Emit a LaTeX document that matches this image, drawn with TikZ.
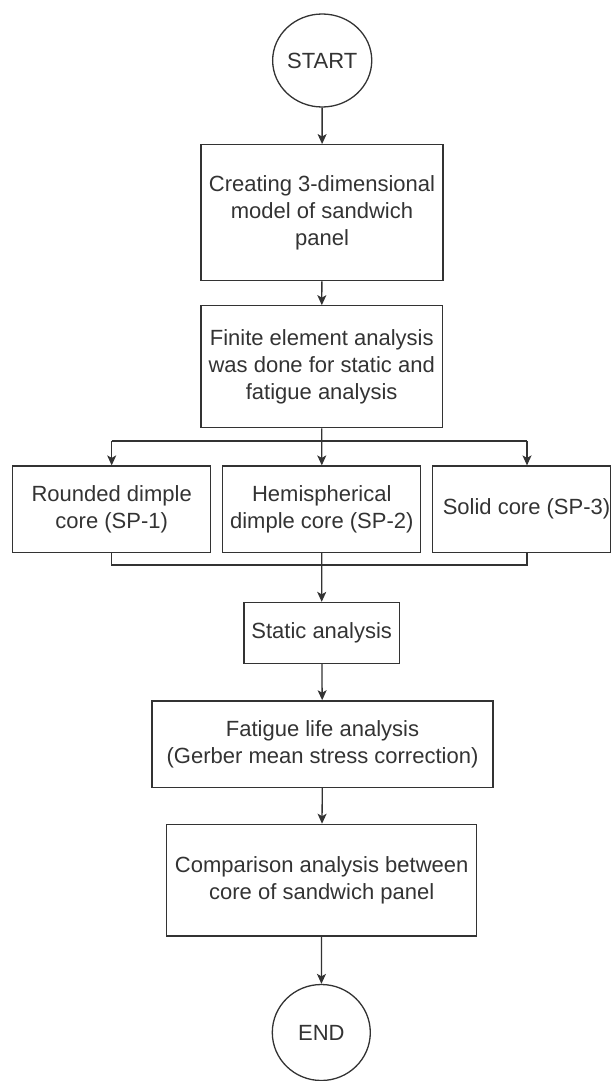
\documentclass[tikz,border=0pt]{standalone}
\usepackage{fontspec}
\setmainfont{Liberation Sans}
\usetikzlibrary{arrows.meta,shapes.geometric}
\definecolor{lc}{HTML}{333333}
\definecolor{tc}{HTML}{333333}
\begin{document}
\begin{tikzpicture}[x=1pt,y=-1pt,
  every node/.style={font=\fontsize{22}{26.7}\selectfont, text=tc},
  boxst/.style={draw=lc, line width=1.3pt, rectangle, inner sep=0pt, align=center},
  termst/.style={draw=lc, line width=1.3pt, ellipse, inner sep=0pt},
  conn/.style={draw=lc, line width=1.3pt},
  arr/.style={conn, -{Stealth[length=10pt,width=9pt,inset=2.5pt]}}]
\useasboundingbox (0,0) rectangle (611,1081);
\node[termst, minimum width=99pt, minimum height=93pt] (start) at (322.2,60.5) {START};
\node[boxst, minimum width=242pt, minimum height=136pt] (b1) at (322,212.7) {Creating 3-dimensional\\model of sandwich\\panel};
\node[boxst, minimum width=241.6pt, minimum height=122pt] (b2) at (321.7,366.8) {Finite element analysis\\was done for static and\\fatigue analysis};
\node[boxst, minimum width=198pt, minimum height=86.5pt] (bl) at (111.7,509.3) {Rounded dimple\\core (SP-1)};
\node[boxst, minimum width=198pt, minimum height=86.5pt] (bm) at (321.8,509.3) {Hemispherical\\dimple core (SP-2)};
\node[boxst, minimum width=177.4pt, minimum height=86.5pt] (br) at (521.5,509.3) {};
\node[inner sep=0pt] (brt) at (526.5,509.3) {Solid core (SP-3)};
\node[boxst, minimum width=155.3pt, minimum height=61pt] (stat) at (321.7,633) {Static analysis};
\node[boxst, minimum width=341pt, minimum height=86.3pt] (fat) at (322.5,744) {Fatigue life analysis\\(Gerber mean stress correction)};
\node[boxst, minimum width=310pt, minimum height=111.7pt] (cmp) at (321.7,880.2) {Comparison analysis between\\core of sandwich panel};
\node[termst, minimum width=98pt, minimum height=96pt] (end) at (321.3,1032.5) {END};
\coordinate (sL) at (111.7,441);
\coordinate (sR) at (527,441);
\coordinate (mL) at (111.7,565);
\coordinate (mR) at (527,565);
\draw[arr] (start) -- (b1);
\draw[arr] (b1) -- (b2);
\draw[arr] (b2.south) -- (bm.north);
\draw[conn] (sL) -- (sR);
\draw[arr] (sL) -- (bl.north);
\draw[arr] (sR) -- (sR |- br.north);
\draw[conn] (bl.south) -- (mL) -- (mR) -- (mR |- br.south);
\draw[arr] (bm.south) -- (stat.north);
\draw[arr] (stat) -- (fat);
\draw[arr] (fat) -- (cmp);
\draw[arr] (cmp) -- (end);
\end{tikzpicture}
\end{document}
